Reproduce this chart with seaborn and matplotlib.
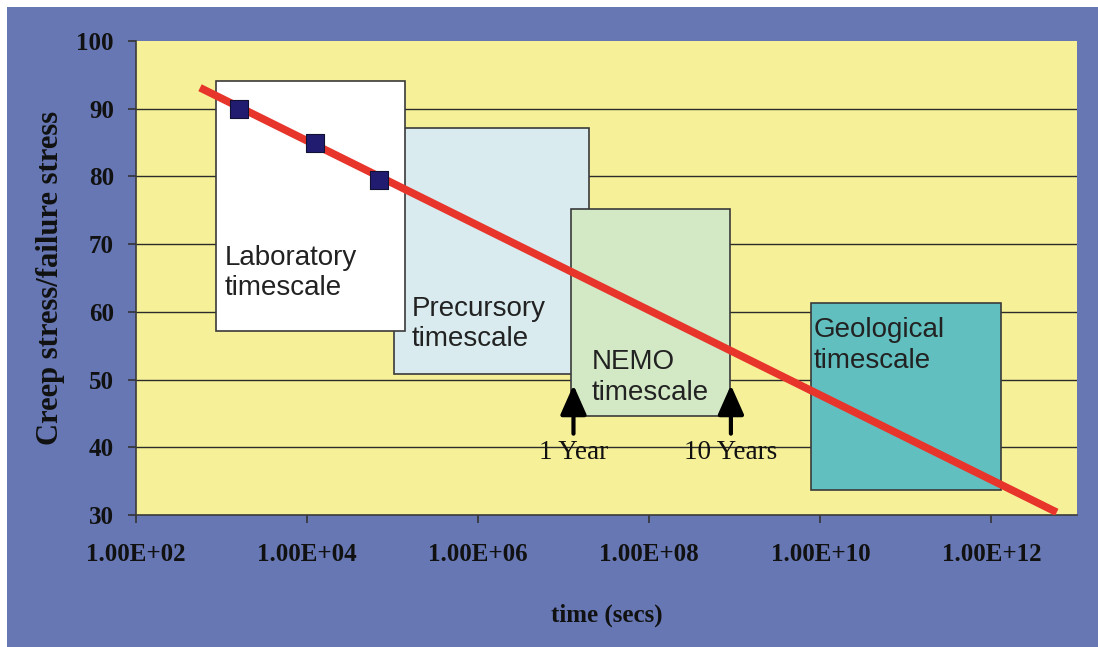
import matplotlib
matplotlib.use("Agg")
import matplotlib.pyplot as plt
from matplotlib.patches import Rectangle
import seaborn as sns
import pandas as pd

# Measured creep tests (time to failure, stress ratio)
test_time = [1.6e3, 1.25e4, 7.0e4]
test_stress = [90.0, 85.0, 79.5]

# Fitted trend through the tests, extrapolated
trend_time = [5.6e2, 5.8e12]
trend_stress = [93.1, 30.4]

# Timescale boxes: label, time range, stress range, colour, label anchor
box_labels = ["Precursory\ntimescale", "Laboratory\ntimescale", "NEMO\ntimescale", "Geological\ntimescale"]
box_t0 = [1.05e5, 8.5e2, 1.2e7, 7.7e9]
box_t1 = [2.0e7, 1.38e5, 8.9e8, 1.3e12]
box_lo = [50.8, 57.2, 44.6, 33.7]
box_hi = [87.1, 94.1, 75.2, 61.3]
box_colors = ["#d9ebee", "#ffffff", "#d3e9c6", "#62bfbf"]
label_t = [1.66e5, 1.1e3, 2.1e7, 8.4e9]
label_top = [62.4, 69.9, 54.5, 59.2]

# Arrows marking 1 and 10 years
arrow_labels = ["1 Year", "10 Years"]
arrow_t = [1.3e7, 9.0e8]

x_ticks = [1e2, 1e4, 1e6, 1e8, 1e10, 1e12]
x_tick_labels = ["1.00E+02", "1.00E+04", "1.00E+06", "1.00E+08", "1.00E+10", "1.00E+12"]
y_ticks = [30, 40, 50, 60, 70, 80, 90, 100]

sns.set_theme(style="white")
plt.rcParams["font.family"] = ["Liberation Serif", "DejaVu Serif"]

fig = plt.figure(figsize=(10.98, 6.47), dpi=100, facecolor="white")
# blue panel behind the chart (small white strip at top and left)
fig.patches.append(Rectangle((7 / 1098, 0), 1, 1 - 7 / 647, transform=fig.transFigure,
                             facecolor="#6677b3", edgecolor="none", zorder=-10))

ax = fig.add_axes([136 / 1098, 1 - 515 / 647, (1077 - 136) / 1098, (515 - 41) / 647])
ax.set_zorder(1)
ax.set_facecolor("#f6f198")
ax.set_xscale("log")
ax.set_xlim(1e2, 1e13)
ax.set_ylim(30, 100)

for y in y_ticks[1:-1]:
    ax.axhline(y, color="#2b2b2b", lw=1.0, zorder=1)

for t0, t1, lo, hi, c in zip(box_t0, box_t1, box_lo, box_hi, box_colors):
    ax.add_patch(Rectangle((t0, lo), t1 - t0, hi - lo, facecolor=c, edgecolor="#3a3a3a",
                           lw=1.2, zorder=2))

text_kw = dict(family=["Liberation Sans", "DejaVu Sans"], fontsize=20, color="#222222",
               ha="left", va="top", linespacing=1.22, zorder=3)
for lab, t, top in zip(box_labels, label_t, label_top):
    ax.text(t, top, lab, **text_kw)

for lab, t in zip(arrow_labels, arrow_t):
    ax.annotate("", xy=(t, 49.6), xytext=(t, 41.6),
                arrowprops=dict(arrowstyle="-|>,head_length=0.9,head_width=0.4",
                                mutation_scale=20, color="black", lw=3), zorder=4)
    ax.text(t, 39.2, lab, ha="center", va="center", fontsize=19.5, color="#111111", zorder=4)

trend = pd.DataFrame({"time": trend_time, "stress": trend_stress})
sns.lineplot(data=trend, x="time", y="stress", ax=ax, color="#e8352b", lw=5.5,
             solid_capstyle="butt", zorder=5)
tests = pd.DataFrame({"time": test_time, "stress": test_stress})
sns.scatterplot(data=tests, x="time", y="stress", ax=ax, marker="s", s=170,
                color="#211c70", edgecolor="#111133", linewidth=0.8, zorder=6)

ax.set_xticks(x_ticks)
ax.set_xticklabels(x_tick_labels)
ax.minorticks_off()
ax.set_yticks(y_ticks)
ax.tick_params(axis="both", which="major", direction="out", length=6, width=1.2,
               color="#333333", labelsize=18, labelcolor="#111111", pad=10,
               bottom=True, left=True)
ax.tick_params(axis="x", pad=14)
for lbl in ax.get_xticklabels() + ax.get_yticklabels():
    lbl.set_fontweight("bold")

for side, sp in ax.spines.items():
    sp.set_color("#3a3a3a")
    sp.set_linewidth(1.2)
ax.spines["top"].set_visible(False)
ax.spines["right"].set_visible(False)

ax.set_xlabel("time (secs)", fontsize=18, fontweight="bold", color="#111111", labelpad=27)
ax.set_ylabel("Creep stress/failure stress", fontsize=22, fontweight="bold",
              color="#111111", labelpad=8)

fig.savefig("out.png", dpi=100, facecolor=fig.get_facecolor())
